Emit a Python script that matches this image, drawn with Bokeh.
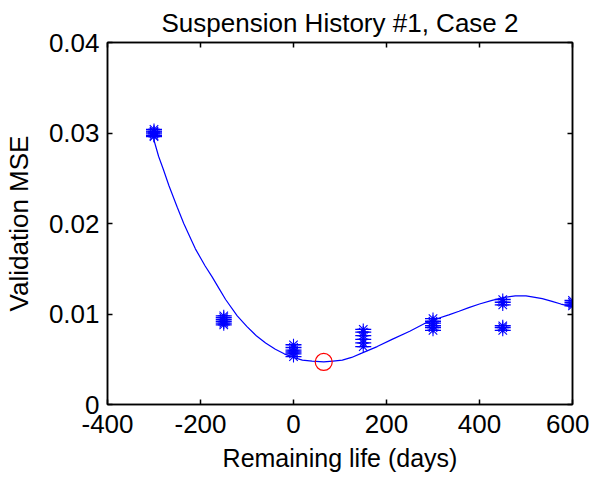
from bokeh.plotting import figure
from bokeh.models import LinearAxis, Range1d, FixedTicker, ColumnDataSource
from bokeh.embed import file_html
from bokeh.resources import INLINE

# Measured validation MSE per suspension point
group_x = [-300, -150, 0, 150, 300, 450, 600]
mse_m300 = [0.0304, 0.0302, 0.0301, 0.0299, 0.0297, 0.0296]
mse_m150 = [0.0098, 0.0096, 0.0094, 0.0092, 0.0090, 0.0088]
mse_0 = [0.0066, 0.0063, 0.0060, 0.0058, 0.0056, 0.0053]
mse_150 = [0.0083, 0.0080, 0.0076, 0.0072, 0.0068, 0.0064]
mse_300 = [0.0095, 0.0092, 0.0090, 0.0087, 0.0085, 0.0082]
mse_450 = [0.0116, 0.0113, 0.0110, 0.0087, 0.0085, 0.0082]
mse_600 = [0.0115, 0.0113, 0.0111, 0.0109]

# Fitted curve
fit_x = [-300, -290, -280, -268, -250, -236, -220, -211, -190, -175, -160, -146,
         -121, -100, -80, -60, -39, -20, 0, 19, 40, 65, 85, 105, 125, 148, 180,
         212, 250, 284, 310, 334, 356, 377, 400, 427, 450, 477, 500, 513, 535,
         556, 575, 592, 600]
fit_y = [0.0292, 0.0274, 0.0260, 0.0242, 0.0218, 0.0200, 0.0182, 0.0172, 0.0153,
         0.0141, 0.0128, 0.0116, 0.0098, 0.0086, 0.0076, 0.0068, 0.0061, 0.0056,
         0.0052, 0.0049, 0.0048, 0.0047, 0.0048, 0.0049, 0.0052, 0.0057, 0.0064,
         0.0072, 0.0081, 0.0090, 0.0095, 0.0099, 0.0103, 0.0107, 0.0111, 0.0115,
         0.0118, 0.0120, 0.0120, 0.0119, 0.0117, 0.0114, 0.0111, 0.0109, 0.0108]

# Optimum
opt_x = [65]
opt_y = [0.0047]

x_ticks = [-400, -200, 0, 200, 400, 600]
x_tick_labels = {-400: "-400", -200: "-200", 0: "0", 200: "200", 400: "400", 600: "600"}
y_ticks = [0, 0.01, 0.02, 0.03, 0.04]
y_tick_labels = {0: "0", 0.01: "0.01", 0.02: "0.02", 0.03: "0.03", 0.04: "0.04"}

groups = [mse_m300, mse_m150, mse_0, mse_150, mse_300, mse_450, mse_600]
px, py = [], []
for gx, vals in zip(group_x, groups):
    for v in vals:
        px.append(gx)
        py.append(v)
src = ColumnDataSource(dict(x=px, y=py))

FONT = "Liberation Sans"
FS = "26px"

p = figure(frame_width=465, frame_height=362, output_backend="svg", toolbar_location=None,
           x_range=Range1d(-400, 600), y_range=Range1d(0, 0.04),
           x_axis_location=None, y_axis_location=None,
           min_border_left=106, min_border_right=17, min_border_top=41, min_border_bottom=60,
           title="Suspension History #1, Case 2")
p.title.align = "center"
p.title.text_font = FONT
p.title.text_font_size = FS
p.title.text_font_style = "normal"
p.title.text_color = "black"
p.grid.visible = False
p.outline_line_color = "black"
p.outline_line_width = 1.5
p.background_fill_color = "white"
p.border_fill_color = "white"

def mk_axis(kind, loc, labels):
    ax = LinearAxis()
    ax.ticker = FixedTicker(ticks=x_ticks if kind == "x" else y_ticks)
    ax.axis_line_color = "black"
    ax.axis_line_width = 1.5
    ax.major_tick_in = 5
    ax.major_tick_out = 0
    ax.major_tick_line_color = "black"
    ax.major_tick_line_width = 1.5
    ax.minor_tick_line_color = None
    ax.major_label_text_font = FONT
    ax.major_label_text_font_size = FS
    ax.major_label_text_color = "black"
    if not labels:
        ax.major_label_text_alpha = 0
        ax.major_label_text_font_size = "1px"
    p.add_layout(ax, loc)
    return ax

xb = mk_axis("x", "below", True)
xb.major_label_overrides = x_tick_labels
xb.major_label_standoff = 10
xb.axis_label = "Remaining life (days)"
xb.axis_label_text_font = FONT
xb.axis_label_text_font_size = "25px"
xb.axis_label_text_font_style = "normal"
xb.axis_label_text_color = "black"
xb.axis_label_standoff = 8
yl = mk_axis("y", "left", True)
yl.major_label_overrides = y_tick_labels
yl.major_label_standoff = 8
yl.axis_label = "Validation MSE"
yl.axis_label_text_font = FONT
yl.axis_label_text_font_size = FS
yl.axis_label_text_font_style = "normal"
yl.axis_label_text_color = "black"
yl.axis_label_standoff = 12
mk_axis("x", "above", False)
mk_axis("y", "right", False)

p.line(fit_x, fit_y, line_color="#0000ff", line_width=1.2)
p.scatter("x", "y", source=src, marker="dash", size=16, line_color="#0000ff", line_width=1.3)
p.scatter("x", "y", source=src, marker="asterisk", size=12, line_color="#0000ff", line_width=1.1)
p.scatter(opt_x, opt_y, marker="circle", size=17, fill_color=None, line_color="red", line_width=1.2)

open("out.html", "w").write(file_html(p, INLINE))
